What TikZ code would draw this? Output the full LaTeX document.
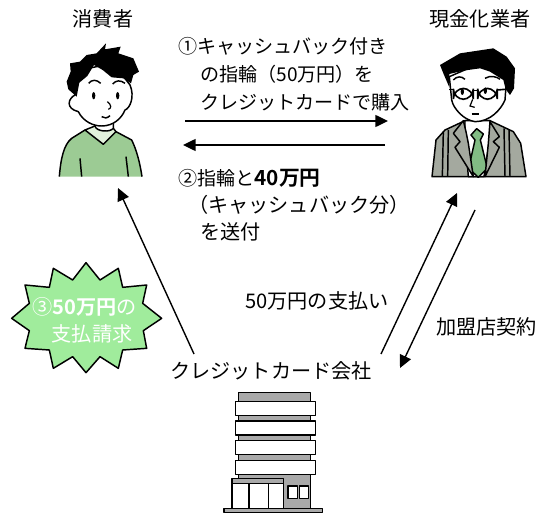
\documentclass[tikz,border=0pt]{standalone}
\usepackage{fontspec}
\setmainfont{Noto Sans CJK JP}[BoldFont={Noto Sans CJK JP Bold}]
\usetikzlibrary{arrows.meta}
\definecolor{shirtgreen}{HTML}{9CCB94}
\definecolor{collargreen}{HTML}{E2F2DC}
\definecolor{burstgreen}{HTML}{A0EC9C}
\definecolor{suitgray}{HTML}{A4A99F}
\definecolor{tiegreen}{HTML}{82BC84}
\definecolor{wallgray}{HTML}{A9A9A9}
\tikzset{
  lbl/.style={inner sep=0pt,font=\fontsize{14.3pt}{16pt}\selectfont},
  biglbl/.style={inner sep=0pt,font=\fontsize{15.1pt}{17pt}\selectfont},
  ink/.style={draw=black,line width=1.1pt,line join=round},
  flow/.style={-{Triangle[length=9.5pt,width=9pt]},line width=1.05pt}
}
\newcommand{\bigbold}[1]{\textbf{\fontsize{15.6pt}{17pt}\selectfont #1}}
\begin{document}
\begin{tikzpicture}[x=0.75pt,y=-0.75pt]
\useasboundingbox (0,0) rectangle (545,513);

% labels
\node [biglbl] (consumer) at (103,19) {消費者};
\node [biglbl] (casher) at (480,19) {現金化業者};
\node [lbl,anchor=west] (buy1) at (178,46) {①キャッシュバック付き};
\node [lbl,anchor=west] (buy2) at (200,74) {の指輪（50万円）を};
\node [lbl,anchor=west] (buy3) at (200,102) {クレジットカードで購入};
\node [lbl,anchor=west] (ret1) at (178,178) {②指輪と\bigbold{40万円}};
\node [biglbl,anchor=west] (ret2) at (188,205) {（キャッシュバック分）};
\node [biglbl,anchor=west] (ret3) at (200,232) {を送付};
\node [biglbl,anchor=west] (pay) at (245,301) {50万円の支払い};
\node [biglbl,anchor=west] (shop) at (436,327) {加盟店契約};
\node [biglbl] (card) at (271,371) {クレジットカード会社};

% arrows
\coordinate (buyS) at (185,121); \coordinate (buyE) at (388,121);
\coordinate (retS) at (385,145); \coordinate (retE) at (183,145);
\coordinate (billS) at (194,354); \coordinate (billE) at (118,188);
\coordinate (payS) at (381,354); \coordinate (payE) at (457,193);
\coordinate (shopS) at (475,210); \coordinate (shopE) at (400,368);
\draw [flow] (buyS) -- (buyE);
\draw [flow] (retS) -- (retE);
\draw [flow] (billS) -- (billE);
\draw [flow] (payS) -- (payE);
\draw [flow] (shopS) -- (shopE);

% burst
\begin{scope}[shift={(0,240)},x=0.25pt,y=-0.25pt]
\draw [ink,fill=burstgreen] (258,68) -- (300,120) -- (355,85) -- (368,142) -- (440,135) -- (428,190) -- (485,235) -- (430,272) -- (440,325) -- (368,330) -- (355,385) -- (300,350) -- (258,398) -- (218,350) -- (160,385) -- (148,330) -- (75,325) -- (88,272) -- (35,235) -- (88,190) -- (75,135) -- (148,142) -- (160,85) -- (218,120) -- cycle;
\end{scope}
\node [biglbl,text=white,anchor=west] (bill1) at (32,307) {③\textbf{50万円}の};
\node [biglbl,text=white] (bill2) at (92,334) {支払請求};

% consumer figure
\begin{scope}[shift={(30,0)},x=0.25pt,y=-0.25pt]
\fill [shirtgreen] (88,530) .. controls (92,480) and (100,435) .. (125,415) -- (165,390) -- (220,433) -- (258,395) -- (305,420) .. controls (320,450) and (330,490) .. (336,530) -- cycle;
\draw [ink] (88,530) .. controls (92,480) and (100,435) .. (125,415) -- (165,390);
\draw [ink] (258,395) -- (305,420) .. controls (320,450) and (330,490) .. (336,530);
\draw [ink] (150,475) -- (155,530);
\draw [ink] (288,470) -- (295,530);
\draw [ink,fill=collargreen] (165,390) -- (195,378) -- (250,385) -- (258,395) -- (220,433) -- cycle;
\draw [ink,fill=white] (195,378) .. controls (198,395) and (240,398) .. (250,385) -- (250,360) -- (195,360) -- cycle;
\draw [ink,fill=white] (135,285) .. controls (115,295) and (105,325) .. (145,335) .. controls (160,365) and (190,378) .. (215,378) .. controls (250,378) and (275,355) .. (285,330) .. controls (300,325) and (315,290) .. (300,255) -- (250,190) -- (150,210) -- cycle;
\fill (110,245) -- (122,215) -- (120,190) -- (150,185) -- (170,165) -- (200,160) -- (228,130) -- (225,148) -- (272,140) -- (265,160) -- (310,175) -- (327,215) -- (310,225) -- (303,250) -- (280,235) -- (245,232) -- (218,210) -- (192,195) -- (172,228) -- (148,248) -- (140,290) -- (115,268) -- cycle;
\draw [line width=1.1pt] (176,250) .. controls (185,238) and (200,238) .. (212,250);
\draw [line width=1.1pt] (248,252) .. controls (258,240) and (272,240) .. (285,250);
\fill (191,287) ellipse (5 and 11);
\fill (263,287) ellipse (5 and 11);
\draw [line width=0.9pt] (232,305) .. controls (245,315) and (245,325) .. (235,328);
\draw [line width=1.1pt] (215,350) .. controls (222,356) and (232,355) .. (240,347);
\end{scope}

% casher figure
\begin{scope}[shift={(410,0)},x=0.25pt,y=-0.25pt]
\draw [ink,fill=suitgray] (66,530) -- (78,420) -- (105,390) -- (165,362) -- (240,362) -- (310,395) -- (332,430) -- (348,530) -- cycle;
\draw [ink,fill=white] (165,400) -- (165,362) -- (240,362) -- (240,410) -- (222,530) -- (175,530) -- cycle;
\draw [ink,fill=tiegreen] (183,405) -- (200,386) -- (220,402) -- (211,420) -- (232,505) -- (205,532) -- (176,505) -- (195,420) -- cycle;
\draw [ink,fill=suitgray] (160,362) -- (130,400) -- (150,425) -- (135,442) -- (190,530) -- (175,430) -- (168,395) -- cycle;
\draw [ink,fill=suitgray] (240,365) -- (268,410) -- (250,425) -- (268,442) -- (225,530) -- (235,430) -- cycle;
\draw [ink] (100,395) -- (97,530);
\draw [ink] (115,390) -- (113,530);
\draw [ink] (297,390) -- (300,530);
\draw [ink] (282,385) -- (285,530);
\draw [ink,fill=white] (118,230) -- (125,300) .. controls (130,325) and (160,360) .. (195,365) .. controls (240,365) and (272,330) .. (285,300) -- (290,230) -- (210,190) -- cycle;
\fill (90,195) -- (150,160) -- (250,145) -- (290,170) -- (315,205) -- (312,265) -- (300,285) -- (287,268) -- (280,240) -- (240,215) -- (210,205) -- (160,212) -- (118,222) -- (118,262) -- (100,220) -- cycle;
\draw [line width=1.1pt] (130,240) .. controls (140,228) and (155,228) .. (165,238);
\draw [line width=1.1pt] (225,235) .. controls (240,225) and (262,230) .. (270,238);
\draw [line width=1.2pt,rounded corners=8pt] (130,265) rectangle (190,298);
\draw [line width=1.2pt,rounded corners=8pt] (203,265) rectangle (262,298);
\draw [line width=1.2pt] (190,272) -- (203,272);
\draw [line width=1.2pt] (118,268) -- (130,268);
\draw [line width=1.2pt] (262,270) -- (285,268);
\fill (157,275) ellipse (5 and 10);
\fill (226,272) ellipse (5 and 10);
\draw [line width=0.9pt] (188,298) -- (180,318) -- (194,322);
\draw [line width=1.1pt] (185,342) -- (208,342);
\end{scope}

% office building
\begin{scope}[shift={(210,370)},x=0.25pt,y=-0.25pt]
\draw [ink,fill=wallgray] (86,68) rectangle (302,415);
\foreach \yy in {95,153,212,271} {
  \draw [ink,fill=white] (77,\yy) rectangle (317,\yy+42);
}
\draw [ink,fill=white] (66,340) rectangle (220,415);
\draw [ink,fill=wallgray] (66,326) rectangle (220,340);
\draw [ink] (117,340) -- (117,415);
\draw [ink] (176,340) -- (176,415);
\draw [ink,fill=white] (234,348) rectangle (262,385);
\draw [ink,fill=white] (268,348) rectangle (296,385);
\draw [ink,fill=wallgray] (42,415) rectangle (337,428);
\end{scope}
\end{tikzpicture}
\end{document}
